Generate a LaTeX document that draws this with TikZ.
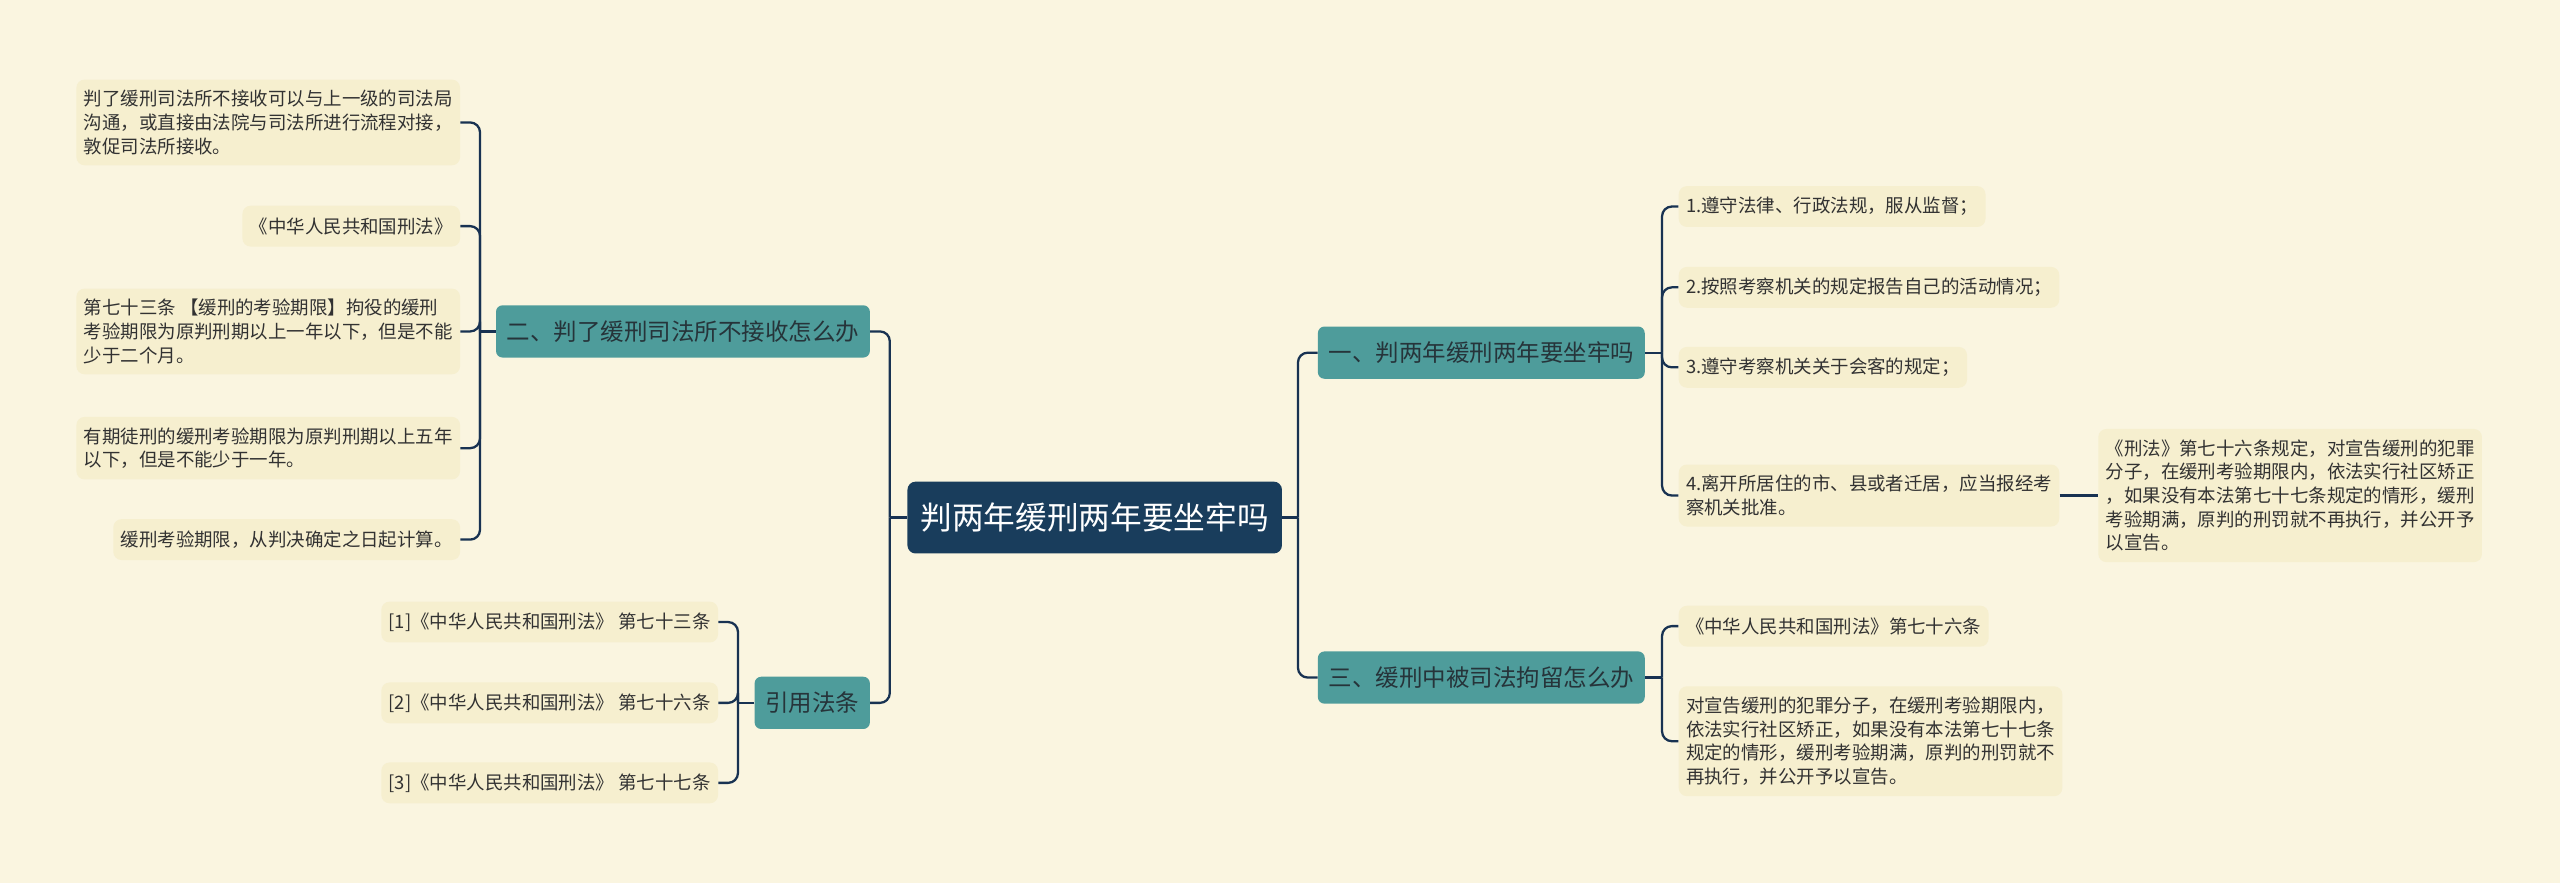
\documentclass[tikz,border=0pt]{standalone}
\usepackage{fontspec}
\setmainfont{Noto Sans CJK SC}
\definecolor{paper}{RGB}{250,245,224}
\definecolor{leafbg}{RGB}{246,239,207}
\definecolor{branchteal}{RGB}{78,156,155}
\definecolor{branchink}{RGB}{38,52,58}
\definecolor{rootnavy}{RGB}{25,61,92}
\definecolor{linknavy}{RGB}{24,50,82}
\definecolor{inkgray}{RGB}{50,50,50}

\begin{document}
\begin{tikzpicture}[x=1pt,y=-1pt,
 leaf/.style={rounded corners=5pt,fill=leafbg,text=inkgray,font=\fontsize{11.3}{14.5}\selectfont,inner xsep=4.5pt,inner ysep=6.5pt,minimum height=25pt,align=left},
 br/.style={rounded corners=4pt,fill=branchteal,text=branchink,font=\fontsize{14.4}{17}\selectfont,inner xsep=6.5pt,minimum height=32pt},
 link/.style={draw=linknavy,line width=1.4pt,rounded corners=6pt}]
\fill[paper] (0,0) rectangle (1568,541);
% centre and main branches
\node[rounded corners=5pt,fill=rootnavy,text=white,font=\fontsize{19.4}{22}\selectfont,inner xsep=8pt,minimum height=44pt] (root) at (670.5,317) {判两年缓刑两年要坐牢吗};
\node[br,anchor=west] (b1) at (807,216) {一、判两年缓刑两年要坐牢吗};
\node[br,anchor=east] (b2) at (533,203) {二、判了缓刑司法所不接收怎么办};
\node[br,anchor=west] (b3) at (807,415) {三、缓刑中被司法拘留怎么办};
\node[br,anchor=east] (b4) at (533,430.5) {引用法条};
% left leaves
\node[leaf,anchor=east] (l1) at (282,75) {判了缓刑司法所不接收可以与上一级的司法局\\沟通，或直接由法院与司法所进行流程对接，\\敦促司法所接收。};
\node[leaf,anchor=east] (l2) at (282,138.5) {《中华人民共和国刑法》};
\node[leaf,anchor=east] (l3) at (282,203) {第七十三条 【缓刑的考验期限】拘役的缓刑\\考验期限为原判刑期以上一年以下，但是不能\\少于二个月。};
\node[leaf,anchor=east] (l4) at (282,274.5) {有期徒刑的缓刑考验期限为原判刑期以上五年\\以下，但是不能少于一年。};
\node[leaf,anchor=east] (l5) at (282,330.5) {缓刑考验期限，从判决确定之日起计算。};
\node[leaf,anchor=east] (r1) at (440,381) {[1]《中华人民共和国刑法》 第七十三条};
\node[leaf,anchor=east] (r2) at (440,430.5) {[2]《中华人民共和国刑法》 第七十六条};
\node[leaf,anchor=east] (r3) at (440,479.5) {[3]《中华人民共和国刑法》 第七十七条};
% right leaves
\node[leaf,anchor=west] (a1) at (1028,126.5) {1.遵守法律、行政法规，服从监督；};
\node[leaf,anchor=west] (a2) at (1028,176) {2.按照考察机关的规定报告自己的活动情况；};
\node[leaf,anchor=west] (a3) at (1028,225) {3.遵守考察机关关于会客的规定；};
\node[leaf,anchor=west] (a4) at (1028,303.5) {4.离开所居住的市、县或者迁居，应当报经考\\察机关批准。};
\node[leaf,anchor=west] (a5) at (1285,303.5) {《刑法》第七十六条规定，对宣告缓刑的犯罪\\分子，在缓刑考验期限内，依法实行社区矫正\\，如果没有本法第七十七条规定的情形，缓刑\\考验期满，原判的刑罚就不再执行，并公开予\\以宣告。};
\node[leaf,anchor=west] (c1) at (1028,383.5) {《中华人民共和国刑法》第七十六条};
\node[leaf,anchor=west] (c2) at (1028,454) {对宣告缓刑的犯罪分子，在缓刑考验期限内，\\依法实行社区矫正，如果没有本法第七十七条\\规定的情形，缓刑考验期满，原判的刑罚就不\\再执行，并公开予以宣告。};
% junctions
\coordinate (jl) at (545,317);
\coordinate (jr) at (795,317);
\coordinate (j2) at (294,203);
\coordinate (j4) at (452,430.5);
\coordinate (j1) at (1018,216);
\coordinate (j3) at (1018,415);
\draw[link] (root.west) -- (jl);
\draw[link] (root.east) -- (jr);
\foreach \b in {b2,b4}{\draw[link] (jl) |- (\b.east);}
\foreach \b in {b1,b3}{\draw[link] (jr) |- (\b.west);}
\draw[link] (b2.west) -- (j2);
\foreach \l in {l1,l2,l3,l4,l5}{\draw[link] (j2) |- (\l.east);}
\draw[link] (b4.west) -- (j4);
\foreach \l in {r1,r2,r3}{\draw[link] (j4) |- (\l.east);}
\draw[link] (b1.east) -- (j1);
\foreach \l in {a1,a2,a3,a4}{\draw[link] (j1) |- (\l.west);}
\draw[link] (a4.east) -- (a5.west);
\draw[link] (b3.east) -- (j3);
\foreach \l in {c1,c2}{\draw[link] (j3) |- (\l.west);}
\end{tikzpicture}
\end{document}
